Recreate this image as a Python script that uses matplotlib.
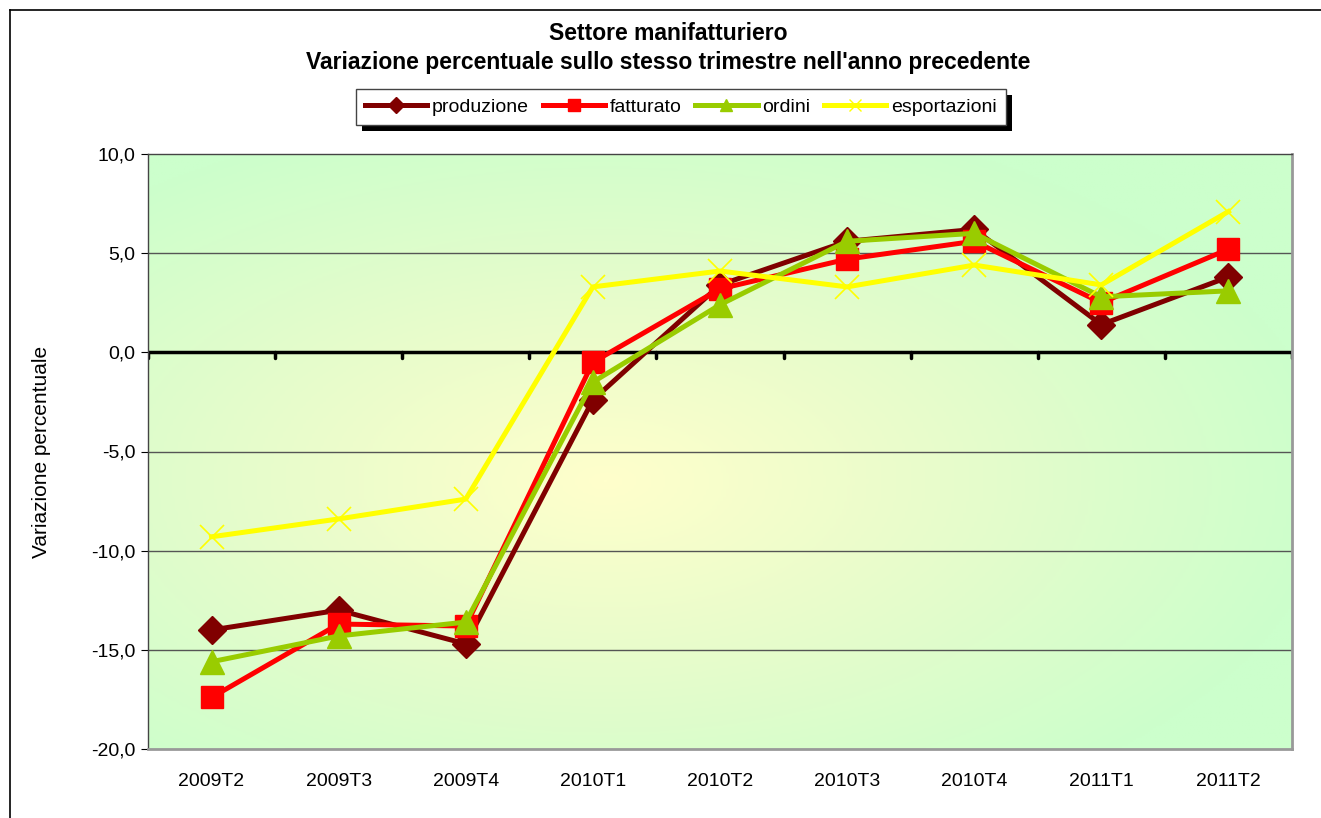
import numpy as np
import matplotlib
matplotlib.use("Agg")
import matplotlib.pyplot as plt
from matplotlib.lines import Line2D
from matplotlib.patches import Rectangle
from matplotlib.colors import LinearSegmentedColormap
from matplotlib.ticker import FuncFormatter

plt.rcParams['font.family'] = ['Liberation Sans', 'DejaVu Sans']

categories = ["2009T2", "2009T3", "2009T4", "2010T1", "2010T2", "2010T3", "2010T4", "2011T1", "2011T2"]
produzione = [-14.0, -13.0, -14.7, -2.4, 3.4, 5.6, 6.2, 1.4, 3.8]
fatturato = [-17.4, -13.7, -13.8, -0.5, 3.2, 4.7, 5.6, 2.5, 5.2]
ordini = [-15.6, -14.3, -13.6, -1.5, 2.4, 5.6, 6.0, 2.8, 3.1]
esportazioni = [-9.3, -8.4, -7.4, 3.3, 4.1, 3.3, 4.4, 3.4, 7.1]

W, H = 1321, 818
fig = plt.figure(figsize=(W/100, H/100), dpi=100)
ax = fig.add_axes([148/W, 1-749/H, (1292-148)/W, (749-154)/H])

n = len(categories)
x = np.arange(n)
ax.set_xlim(-0.5, n-0.5)
ax.set_ylim(-20, 10)

# radial gradient background
gx, gy = np.meshgrid(np.linspace(0, 1, 400), np.linspace(0, 1, 300))
cx, cy = 0.40, 0.45
r = np.sqrt(((gx-cx)/0.75)**2 + ((gy-cy)/0.75)**2)
r = np.clip(r, 0, 1)
cmap = LinearSegmentedColormap.from_list("bg", ["#FFFFCC", "#E6FCCB", "#CCFFCC"])
ax.imshow(r, cmap=cmap, extent=[-0.5, n-0.5, -20, 10], origin='lower', aspect='auto', zorder=0, vmin=0, vmax=0.85)

for yv in [5, -5, -10, -15]:
    ax.axhline(yv, color='#555555', lw=1.0, zorder=1)
ax.axhline(0, color='black', lw=2.5, zorder=2)
for k in range(n+1):
    ax.plot([k-0.5, k-0.5], [0, -0.3], color='black', lw=2.5, zorder=2, solid_capstyle='round')

series = [
    ("produzione", produzione, "#800000", "D", 14, None),
    ("fatturato", fatturato, "#FF0000", "s", 16, None),
    ("ordini", ordini, "#99CC00", "^", 17, None),
    ("esportazioni", esportazioni, "#FFFF00", "x", 17, 1.2),
]
handles = []
for name, vals, col, mk, ms, mew in series:
    kw = dict(color=col, lw=3.6, marker=mk, markersize=ms, zorder=3)
    if mew is not None:
        kw['markeredgewidth'] = mew
    else:
        kw['markeredgecolor'] = col
    ax.plot(x, vals, **kw)
    hkw = dict(color=col, lw=3.6, marker=mk, markersize=8)
    if mew is not None:
        hkw['markeredgewidth'] = 1
    handles.append(Line2D([], [], label=name, **hkw))

FS = 14
ax.set_xticks(x)
ax.set_xticklabels(categories, fontsize=FS)
ax.set_yticks([-20, -15, -10, -5, 0, 5, 10])
ax.yaxis.set_major_formatter(FuncFormatter(lambda v, p: f"{v:.1f}".replace(".", ",")))
ax.tick_params(axis='y', labelsize=FS, length=5, direction='out', pad=4)
ax.tick_params(axis='x', length=0, pad=17)
ax.set_ylabel("Variazione percentuale", fontsize=FS+1)
ax.yaxis.set_label_coords(-0.085, 0.5)

ax.spines['top'].set_color('#444444'); ax.spines['top'].set_linewidth(1.0)
ax.spines['left'].set_color('#444444'); ax.spines['left'].set_linewidth(1.0)
ax.spines['right'].set_color('#999999'); ax.spines['right'].set_linewidth(2.0)
ax.spines['bottom'].set_color('#999999'); ax.spines['bottom'].set_linewidth(2.0)

fig.text(668/W, 1-33/H, "Settore manifatturiero", ha='center', va='center', fontsize=16.5, fontweight='bold')
fig.text(668/W, 1-62/H, "Variazione percentuale sullo stesso trimestre nell'anno precedente",
         ha='center', va='center', fontsize=16.5, fontweight='bold')

leg = fig.legend(handles=handles, loc='center', bbox_to_anchor=(681/W, 1-107/H), ncol=4, fontsize=FS,
                 frameon=True, fancybox=False, edgecolor='#444444', framealpha=1, handlelength=3.2,
                 handletextpad=0.25, columnspacing=0.7, borderpad=0.45)
leg.get_frame().set_linewidth(1.0)
leg.set_zorder(5)

fig.canvas.draw()
bb = leg.get_frame().get_window_extent(fig.canvas.get_renderer())
shadow = Rectangle(((bb.x0+6)/W, (bb.y0-6)/H), bb.width/W, bb.height/H, transform=fig.transFigure,
                   facecolor='black', edgecolor='none', zorder=4)
fig.add_artist(shadow)

# outer frame
fig.add_artist(Line2D([10/W, 10/W], [0, 1-10/H], transform=fig.transFigure, color='black', lw=1.2))
fig.add_artist(Line2D([10/W, 1], [1-10/H, 1-10/H], transform=fig.transFigure, color='black', lw=1.2))

fig.savefig("out.png", dpi=100)
